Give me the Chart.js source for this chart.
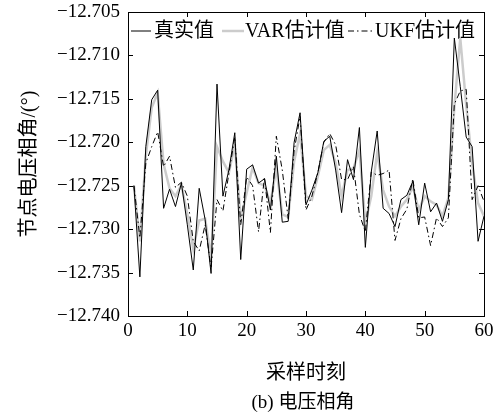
<!DOCTYPE html>
<html>
<head>
<meta charset="utf-8">
<script src="https://cdn.jsdelivr.net/npm/chart.js@4.4.1/dist/chart.umd.min.js"></script>
<style>
  html, body { margin: 0; padding: 0; background: #fff; }
</style>
</head>
<body>
<canvas id="angleChart" width="494" height="414"></canvas>
<script>
// 采样时刻
const samples = [
   1,  2,  3,  4,  5,  6,  7,  8,  9, 10,
  11, 12, 13, 14, 15, 16, 17, 18, 19, 20,
  21, 22, 23, 24, 25, 26, 27, 28, 29, 30,
  31, 32, 33, 34, 35, 36, 37, 38, 39, 40,
  41, 42, 43, 44, 45, 46, 47, 48, 49, 50,
  51, 52, 53, 54, 55, 56, 57, 58, 59, 60
];

// 真实值
const trueAngle = [
  -12.7250, -12.7355, -12.7205, -12.7151, -12.7140, -12.7276, -12.7254, -12.7274, -12.7247, -12.7295,
  -12.7347, -12.7253, -12.7289, -12.7351, -12.7133, -12.7262, -12.7232, -12.7189, -12.7335, -12.7231,
  -12.7226, -12.7247, -12.7242, -12.7278, -12.7216, -12.7292, -12.7291, -12.7200, -12.7166, -12.7272,
  -12.7255, -12.7235, -12.7199, -12.7193, -12.7232, -12.7281, -12.7220, -12.7243, -12.7183, -12.7321,
  -12.7234, -12.7187, -12.7276, -12.7282, -12.7297, -12.7266, -12.7261, -12.7245, -12.7295, -12.7247,
  -12.7280, -12.7270, -12.7291, -12.7266, -12.7080, -12.7136, -12.7194, -12.7205, -12.7314, -12.7285
];

// VAR估计值
const varAngle = [
  -12.7250, -12.7314, -12.7216, -12.7160, -12.7143, -12.7225, -12.7253, -12.7262, -12.7249, -12.7283,
  -12.7323, -12.7290, -12.7288, -12.7333, -12.7205, -12.7222, -12.7235, -12.7203, -12.7289, -12.7258,
  -12.7229, -12.7247, -12.7250, -12.7270, -12.7230, -12.7283, -12.7286, -12.7222, -12.7190, -12.7262,
  -12.7266, -12.7239, -12.7209, -12.7203, -12.7224, -12.7262, -12.7232, -12.7230, -12.7209, -12.7293,
  -12.7262, -12.7212, -12.7255, -12.7274, -12.7285, -12.7274, -12.7266, -12.7251, -12.7278, -12.7262,
  -12.7268, -12.7272, -12.7285, -12.7264, -12.7160, -12.7080, -12.7157, -12.7224, -12.7270, -12.7285
];

// UKF估计值
const ukfAngle = [
  -12.7250, -12.7310, -12.7224, -12.7205, -12.7188, -12.7228, -12.7216, -12.7252, -12.7246, -12.7262,
  -12.7314, -12.7325, -12.7295, -12.7345, -12.7266, -12.7279, -12.7236, -12.7194, -12.7295, -12.7240,
  -12.7250, -12.7303, -12.7240, -12.7304, -12.7193, -12.7232, -12.7288, -12.7210, -12.7170, -12.7278,
  -12.7262, -12.7235, -12.7200, -12.7190, -12.7203, -12.7243, -12.7243, -12.7228, -12.7283, -12.7303,
  -12.7234, -12.7238, -12.7236, -12.7232, -12.7313, -12.7288, -12.7277, -12.7242, -12.7287, -12.7286,
  -12.7319, -12.7287, -12.7297, -12.7287, -12.7156, -12.7141, -12.7139, -12.7266, -12.7250, -12.7268
];

const xTicks = [0, 10, 20, 30, 40, 50, 60];
const yTicks = [-12.740, -12.735, -12.730, -12.725, -12.720, -12.715, -12.710, -12.705];

const FAMILY = '"Liberation Serif", "Noto Sans CJK SC", serif';
const tickFont = { family: FAMILY, size: 19 };
const titleFont = { family: FAMILY, size: 20 };

// 图例：线型样例 + 文字，位置固定在绘图区顶部
const legendSlots = [
  { line: [131, 151], textX: 154 },
  { line: [222, 244], textX: 245 },
  { line: [348, 373], textX: 375 }
];

const legendPlugin = {
  id: 'inlineLegend',
  beforeDatasetsDraw(chart) {
    const ctx = chart.ctx;
    const y = 31;
    ctx.save();
    ctx.font = `20px ${FAMILY}`;
    ctx.textBaseline = 'middle';
    ctx.fillStyle = '#000';
    chart.data.datasets.forEach((ds, i) => {
      const slot = legendSlots[i];
      ctx.strokeStyle = ds.borderColor;
      ctx.lineWidth = ds.borderWidth;
      ctx.setLineDash(ds.borderDash || []);
      ctx.beginPath();
      ctx.moveTo(slot.line[0], y);
      ctx.lineTo(slot.line[1], y);
      ctx.stroke();
      ctx.fillText(ds.label, slot.textX, y + 1);
    });
    ctx.restore();
  }
};

// 边框和朝内的刻度线，外加图题
const framePlugin = {
  id: 'frame',
  afterDraw(chart) {
    const { ctx, chartArea: a, scales } = chart;
    const len = 5;
    ctx.save();
    ctx.strokeStyle = '#000';
    ctx.lineWidth = 1;
    ctx.setLineDash([]);
    ctx.strokeRect(a.left + 0.5, a.top + 0.5, a.right - a.left, a.bottom - a.top);
    ctx.beginPath();
    xTicks.forEach(v => {
      const px = Math.round(scales.x.getPixelForValue(v)) + 0.5;
      ctx.moveTo(px, a.bottom);
      ctx.lineTo(px, a.bottom - len);
      ctx.moveTo(px, a.top);
      ctx.lineTo(px, a.top + len);
    });
    yTicks.forEach(v => {
      const py = Math.round(scales.y.getPixelForValue(v)) + 0.5;
      ctx.moveTo(a.left, py);
      ctx.lineTo(a.left + len, py);
      ctx.moveTo(a.right, py);
      ctx.lineTo(a.right - len, py);
    });
    ctx.stroke();

    ctx.font = `19px ${FAMILY}`;
    ctx.fillStyle = '#000';
    ctx.textAlign = 'center';
    ctx.textBaseline = 'middle';
    ctx.fillText('(b) 电压相角', 303, 403);
    ctx.restore();
  }
};

new Chart(document.getElementById('angleChart'), {
  type: 'line',
  data: {
    labels: samples,
    datasets: [
      {
        label: '真实值',
        data: trueAngle,
        borderColor: '#000',
        borderWidth: 1,
        order: 1
      },
      {
        label: 'VAR估计值',
        data: varAngle,
        borderColor: '#cccccc',
        borderWidth: 2.5,
        order: 3
      },
      {
        label: 'UKF估计值',
        data: ukfAngle,
        borderColor: '#000',
        borderWidth: 1,
        borderDash: [6, 3, 1.5, 3],
        order: 2
      }
    ]
  },
  options: {
    responsive: false,
    animation: false,
    layout: { padding: { left: 0, right: 10, top: 12, bottom: 0 } },
    elements: {
      point: { radius: 0 },
      line: { tension: 0, fill: false }
    },
    plugins: {
      legend: { display: false },
      tooltip: { enabled: false },
      title: { display: false }
    },
    scales: {
      x: {
        type: 'linear',
        min: 0,
        max: 60,
        afterBuildTicks: s => { s.ticks = xTicks.map(v => ({ value: v })); },
        afterFit: s => {
          s.height = 98;
          s.paddingLeft = 0;
          s.paddingRight = 0;
        },
        grid: { display: false, drawTicks: false },
        border: { display: false },
        ticks: { font: tickFont, color: '#000', padding: 4, maxRotation: 0 },
        title: {
          display: true,
          text: '采样时刻',
          font: titleFont,
          color: '#000',
          padding: { top: 0, bottom: 28 }
        }
      },
      y: {
        type: 'linear',
        min: -12.74,
        max: -12.705,
        afterBuildTicks: s => { s.ticks = yTicks.map(v => ({ value: v })); },
        afterFit: s => {
          s.width = 128;
          s.paddingTop = 0;
          s.paddingBottom = 0;
        },
        grid: { display: false, drawTicks: false },
        border: { display: false },
        ticks: {
          font: tickFont,
          color: '#000',
          padding: 8,
          callback: v => '\u2212' + Math.abs(v).toFixed(3)
        },
        title: {
          display: true,
          text: '节点电压相角/(°)',
          font: titleFont,
          color: '#000',
          padding: { top: 18, bottom: 0 }
        }
      }
    }
  },
  plugins: [legendPlugin, framePlugin]
});
</script>
</body>
</html>
